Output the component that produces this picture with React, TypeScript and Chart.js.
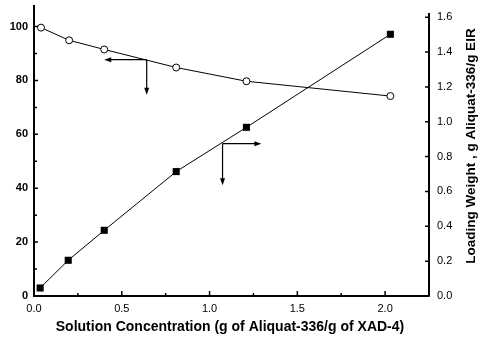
import React, { useEffect, useRef } from "react";
import { Chart, registerables } from "chart.js";

Chart.register(...registerables);

// ---- data ----
const circleX = [0.04, 0.2, 0.4, 0.81, 1.21, 2.03];
const circleValues = [99.6, 94.9, 91.5, 84.8, 79.7, 74.2];
const squareX = [0.035, 0.195, 0.4, 0.81, 1.21, 2.03];
const squareValues = [0.046, 0.205, 0.377, 0.714, 0.968, 1.502];

const xTicks = [0, 0.5, 1.0, 1.5, 2.0];
const xMinorTicks = [0.25, 0.75, 1.25, 1.75];
const leftTicks = [0, 20, 40, 60, 80, 100];
const leftMinorTicks = [10, 30, 50, 70, 90];
const rightTicks = [0, 0.2, 0.4, 0.6, 0.8, 1.0, 1.2, 1.4, 1.6];

const xTitle = "Solution Concentration (g of Aliquat-336/g of XAD-4)";
const rightTitle = "Loading Weight , g Aliquat-336/g EIR";

// arrow annotations in data coordinates
const leftArrow = { x: 0.642, y: 87.7, tipX: 0.4, tipY: 74.7 };
const rightArrow = { x: 1.074, y: 0.874, tipX: 1.295, tipY: 0.636 };

const FONT = "'Liberation Sans', Arial, Helvetica, sans-serif";

function arrowHead(ctx: CanvasRenderingContext2D, x: number, y: number, dir: string) {
  const len = 7;
  const hw = 2.5;
  ctx.beginPath();
  if (dir === "left") {
    ctx.moveTo(x, y);
    ctx.lineTo(x + len, y - hw);
    ctx.lineTo(x + len, y + hw);
  } else if (dir === "right") {
    ctx.moveTo(x, y);
    ctx.lineTo(x - len, y - hw);
    ctx.lineTo(x - len, y + hw);
  } else {
    ctx.moveTo(x, y);
    ctx.lineTo(x - hw, y - len);
    ctx.lineTo(x + hw, y - len);
  }
  ctx.closePath();
  ctx.fill();
}

const decorPlugin = {
  id: "decor",
  afterDraw(chart: any) {
    const ctx: CanvasRenderingContext2D = chart.ctx;
    const { left, right, top, bottom } = chart.chartArea;
    const xs = chart.scales.x;
    const ys = chart.scales.y;
    const y1 = chart.scales.y1;
    ctx.save();
    ctx.strokeStyle = "#000";
    ctx.fillStyle = "#000";
    // axes
    ctx.lineWidth = 2;
    ctx.beginPath();
    ctx.moveTo(left, top);
    ctx.lineTo(left, bottom);
    ctx.lineTo(right, bottom);
    ctx.moveTo(right, top + 8);
    ctx.lineTo(right, bottom);
    ctx.stroke();
    // ticks
    ctx.lineWidth = 1.5;
    ctx.beginPath();
    xTicks.forEach((v) => {
      const px = xs.getPixelForValue(v);
      ctx.moveTo(px, bottom);
      ctx.lineTo(px, bottom - 5);
    });
    xMinorTicks.forEach((v) => {
      const px = xs.getPixelForValue(v);
      ctx.moveTo(px, bottom);
      ctx.lineTo(px, bottom - 3);
    });
    leftTicks.forEach((v) => {
      const py = ys.getPixelForValue(v);
      ctx.moveTo(left, py);
      ctx.lineTo(left + 4, py);
    });
    leftMinorTicks.forEach((v) => {
      const py = ys.getPixelForValue(v);
      ctx.moveTo(left, py);
      ctx.lineTo(left + 3, py);
    });
    rightTicks.forEach((v) => {
      const py = y1.getPixelForValue(v);
      ctx.moveTo(right - 4, py);
      ctx.lineTo(right + 1, py);
    });
    ctx.stroke();

    // arrows
    ctx.lineWidth = 1.2;
    const la = {
      x: xs.getPixelForValue(leftArrow.x),
      y: ys.getPixelForValue(leftArrow.y),
      tx: xs.getPixelForValue(leftArrow.tipX),
      ty: ys.getPixelForValue(leftArrow.tipY),
    };
    ctx.beginPath();
    ctx.moveTo(la.x, la.y);
    ctx.lineTo(la.tx + 4, la.y);
    ctx.moveTo(la.x, la.y);
    ctx.lineTo(la.x, la.ty - 4);
    ctx.stroke();
    arrowHead(ctx, la.tx, la.y, "left");
    arrowHead(ctx, la.x, la.ty, "down");

    const ra = {
      x: xs.getPixelForValue(rightArrow.x),
      y: y1.getPixelForValue(rightArrow.y),
      tx: xs.getPixelForValue(rightArrow.tipX),
      ty: y1.getPixelForValue(rightArrow.tipY),
    };
    ctx.beginPath();
    ctx.moveTo(ra.x, ra.y);
    ctx.lineTo(ra.tx - 4, ra.y);
    ctx.moveTo(ra.x, ra.y);
    ctx.lineTo(ra.x, ra.ty - 4);
    ctx.stroke();
    arrowHead(ctx, ra.tx, ra.y, "right");
    arrowHead(ctx, ra.x, ra.ty, "down");

    // titles
    ctx.textAlign = "center";
    ctx.textBaseline = "middle";
    ctx.font = `bold 14px ${FONT}`;
    ctx.fillText(xTitle, 230, 327);
    ctx.font = `bold 13.5px ${FONT}`;
    ctx.translate(471, 146);
    ctx.rotate(-Math.PI / 2);
    ctx.fillText(rightTitle, 0, 0);
    ctx.restore();
  },
};

function zeroPad(s: any) {
  s.paddingTop = 0;
  s.paddingBottom = 0;
  s.paddingLeft = 0;
  s.paddingRight = 0;
}

export default function App() {
  const ref = useRef<HTMLCanvasElement | null>(null);

  useEffect(() => {
    if (!ref.current) return;
    const chart = new Chart(ref.current, {
      type: "scatter",
      data: {
        datasets: [
          {
            label: "Percent",
            data: circleX.map((x, i) => ({ x, y: circleValues[i] })),
            yAxisID: "y",
            showLine: true,
            borderColor: "#000",
            borderWidth: 1,
            pointStyle: "circle",
            pointRadius: 3.5,
            pointBackgroundColor: "#fff",
            pointBorderColor: "#000",
            pointBorderWidth: 1,
          },
          {
            label: "Loading",
            data: squareX.map((x, i) => ({ x, y: squareValues[i] })),
            yAxisID: "y1",
            showLine: true,
            borderColor: "#000",
            borderWidth: 1,
            pointStyle: "rect",
            pointRadius: 5,
            pointBackgroundColor: "#000",
            pointBorderColor: "#000",
            pointBorderWidth: 0,
          },
        ],
      },
      options: {
        responsive: false,
        animation: false,
        layout: { padding: { top: 5, left: 0, right: 0, bottom: 0 } },
        plugins: {
          legend: { display: false },
          tooltip: { enabled: false },
        },
        scales: {
          x: {
            type: "linear",
            min: 0,
            max: 2.25,
            grid: { display: false, drawTicks: false },
            border: { display: false },
            afterBuildTicks: (s: any) => {
              s.ticks = xTicks.map((v) => ({ value: v }));
            },
            afterFit: (s: any) => {
              s.height = 52;
              zeroPad(s);
            },
            ticks: {
              padding: 6,
              color: "#000",
              font: { family: FONT, size: 11 },
              callback: (v: any) => Number(v).toFixed(1),
            },
          },
          y: {
            type: "linear",
            position: "left",
            min: 0,
            max: 108,
            grid: { display: false, drawTicks: false },
            border: { display: false },
            afterBuildTicks: (s: any) => {
              s.ticks = leftTicks.map((v) => ({ value: v }));
            },
            afterFit: (s: any) => {
              s.width = 34;
              zeroPad(s);
            },
            ticks: {
              padding: 6,
              color: "#000",
              font: { family: FONT, size: 11, weight: "bold" },
              callback: (v: any) => String(v),
            },
          },
          y1: {
            type: "linear",
            position: "right",
            min: 0,
            max: 1.67,
            grid: { display: false, drawTicks: false },
            border: { display: false },
            afterBuildTicks: (s: any) => {
              s.ticks = rightTicks.map((v) => ({ value: v }));
            },
            afterFit: (s: any) => {
              s.width = 52;
              zeroPad(s);
            },
            ticks: {
              padding: 8,
              color: "#000",
              font: { family: FONT, size: 11 },
              callback: (v: any) => Number(v).toFixed(1),
            },
          },
        },
      },
      plugins: [decorPlugin],
    });
    return () => chart.destroy();
  }, []);

  return (
    <div style={{ position: "absolute", left: 0, top: 0, width: 481, height: 348, background: "#fff" }}>
      <canvas ref={ref} width={481} height={348} style={{ width: 481, height: 348 }} />
    </div>
  );
}
